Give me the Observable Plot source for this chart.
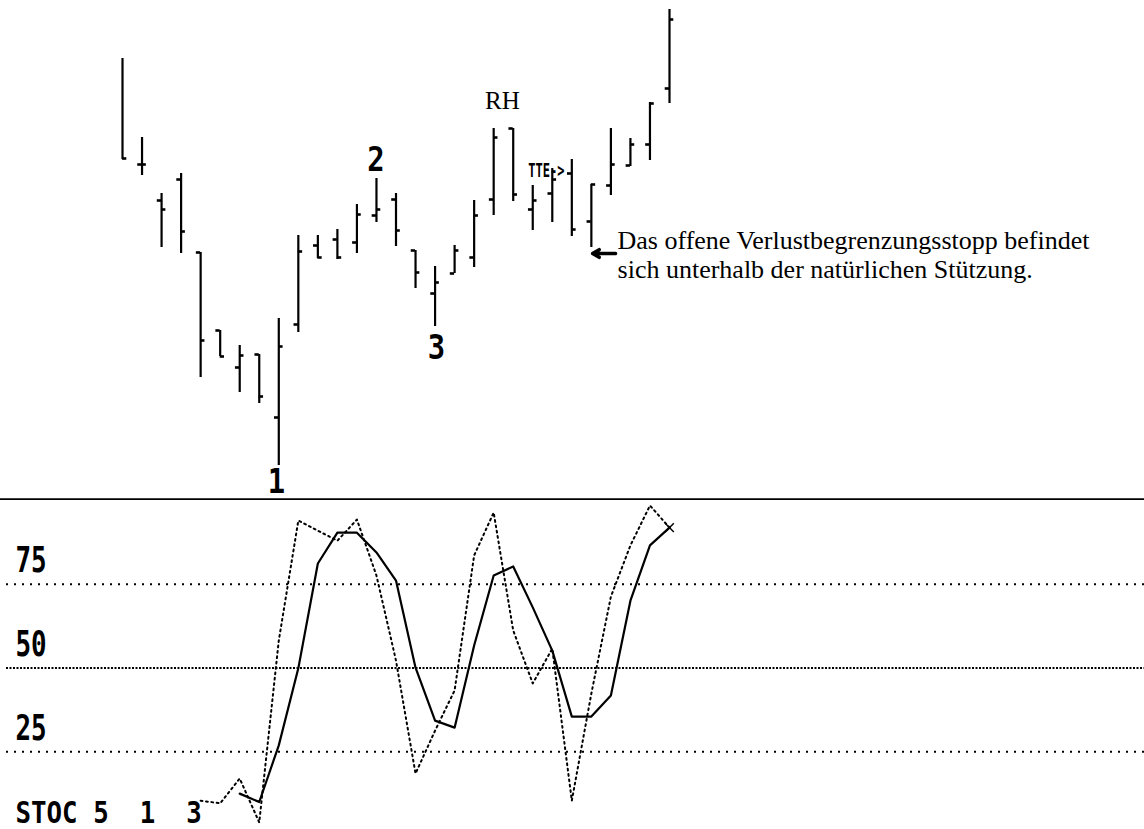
<!DOCTYPE html>
<html><head><meta charset="utf-8">
<script src="https://cdn.jsdelivr.net/npm/d3@7"></script>
<script src="https://cdn.jsdelivr.net/npm/@observablehq/plot@0.6"></script>
<style>
html,body{margin:0;padding:0;background:#fff;overflow:hidden;}
#chart{width:1144px;}
#chart svg{display:block;background:#fff;}
</style></head><body><div id="chart"></div>
<script>
// ---- Price bars (OHLC), bar index 1..29 ----
const barIndex = [1,2,3,4,5,6,7,8,9,10,11,12,13,14,15,16,17,18,19,20,21,22,23,24,25,26,27,28,29];
const highs  = [110.5,90.75,76.75,81.75,62,42.5,38.75,36.5,45.5,66.25,66.25,67.75,74,80.5,76.75,62.5,58.5,63.75,75,93,93,78.75,83,85.25,79,93,90.5,99.5,122.75];
const lows   = [85.25,81.25,63.25,61.75,30.75,36,27,24.25,8.75,42,60.5,60.25,61.75,69.5,63.5,53,43.5,56.75,58.25,71.25,74.75,67.5,69.5,66,63.25,76.25,83.5,85,99.25];
const opens  = [null,84,75,80.25,62,42.5,33.25,36.5,20.75,44,63.75,65.25,64.5,71.25,75.25,62.5,51.75,56.75,60.75,75.25,93,72.75,76.75,81.75,69.75,78.75,83.75,89,103];
const closes = [85.5,84,72.75,67.25,40,36,36.25,26,38.5,62.25,60.75,60.75,71.5,72.75,67.5,57,54.5,62.5,71.25,90.75,76.5,75,80.25,67.75,79,84,89,99.25,120.25];

// ---- Chart labels on the price panel ----
const waveText = ["1","2","3"];
const waveI    = [8.88, 13.97, 17.07];
const waveP    = [2, 82.5, 35.5];
const rhText = "RH", rhI = 20.45, rhP = 100;
const tteText = "TTE->", tteI = 22.7, tteP = 81;
const noteLines = ["Das offene Verlustbegrenzungsstopp befindet", "sich unterhalb der natürlichen Stützung."];
const noteI = 26.34;
const noteP = [63, 55.75];
const arrowFromI = 26.24, arrowToI = 25.06, arrowP = 61.75;

// ---- Stochastic (5,1,3) ----
const kIndex = [5,6,7,8,9,10,11,12,13,14,15,16,17,18,19,20,21,22,23,24,25,26,27,28,29];
const fastK  = [10.4,9.6,17,3.9,58.2,94,91,88,94.3,77.6,52.2,18.5,31.3,43.3,83.6,96.4,61.2,45.4,55.8,10.4,42.4,71.3,86.6,98.5,91.9];
const dIndex = [7,8,9,10,11,12,13,14,15,16,17,18,19,20,21,22,23,24,25,26,27,28,29];
const slowD  = [12.5,10,26.9,49.9,81.2,90.4,90.4,84.5,76.1,50.1,34.3,32.2,56.7,77.6,80.3,68.1,55.2,35.5,35.5,41.8,70.1,86.6,91.9];
const gridLevels = [75, 50, 25];
const gridLabels = ["75", "50", "25"];
const stocLabel = "STOC\u00a05\u00a0\u00a01\u00a0\u00a03";

const bars = barIndex.map((i, k) => ({i, high: highs[k], low: lows[k], open: opens[k], close: closes[k]}));
const waves = waveText.map((t, k) => ({i: waveI[k], p: waveP[k], label: t}));
const notes = noteLines.map((t, k) => ({i: noteI, p: noteP[k], label: t}));
const kData = kIndex.map((i, k) => ({i, v: fastK[k]}));
const dData = dIndex.map((i, k) => ({i, v: slowD[k]}));
const grid = gridLevels.map((v, k) => ({v, label: gridLabels[k]}));

const X = {domain: [1, 29], range: [122, 669], axis: null};
const MONO = "DejaVu Sans Mono";

const topPlot = Plot.plot({
  width: 1144, height: 500, margin: 0,
  x: X,
  y: {domain: [0, 125], range: [500, 0], axis: null},
  marks: [
    Plot.ruleY([0], {stroke: "#000", strokeWidth: 2.5, dy: -1}),
    Plot.ruleX(bars, {x: "i", y1: "low", y2: "high", stroke: "#000", strokeWidth: 2.2}),
    Plot.ruleY(bars.filter(d => d.open != null), {y: "open", x1: d => d.i - 0.22, x2: "i", stroke: "#000", strokeWidth: 2.6}),
    Plot.ruleY(bars, {y: "close", x1: "i", x2: d => d.i + 0.22, stroke: "#000", strokeWidth: 2.6}),
    Plot.text(waves, {x: "i", y: "p", text: "label", fontFamily: MONO, fontWeight: "bold", fontSize: 34, fill: "#000"}),
    Plot.text([rhText], {x: rhI, y: rhP, text: d => d, fontFamily: "Liberation Serif", fontSize: 25, fill: "#000"}),
    Plot.text([tteText], {x: tteI, y: tteP, text: d => d, fontFamily: MONO, fontWeight: "bold", fontSize: 20, fill: "#000"}),
    Plot.arrow([{a: arrowFromI, b: arrowToI, p: arrowP}], {x1: "a", x2: "b", y1: "p", y2: "p", stroke: "#000", strokeWidth: 3.5, headLength: 14}),
    Plot.text(notes, {x: "i", y: "p", text: "label", textAnchor: "start", lineAnchor: "bottom", fontFamily: "Liberation Serif", fontSize: 26, fill: "#000"})
  ]
});

const bottomPlot = Plot.plot({
  width: 1144, height: 329, marginLeft: 6, marginRight: 0, marginTop: 0, marginBottom: 0,
  x: X,
  y: {domain: [0, 100], range: [335, 0], axis: null},
  marks: [
    Plot.ruleY(grid.filter(d => d.v !== 50), {y: "v", stroke: "#000", strokeWidth: 2, strokeDasharray: "2,6"}),
    Plot.ruleY(grid.filter(d => d.v === 50), {y: "v", stroke: "#000", strokeWidth: 2, strokeDasharray: "2,1.5"}),
    Plot.text(grid, {y: "v", text: "label", frameAnchor: "left", textAnchor: "start", dx: 9, dy: -12, fontFamily: MONO, fontWeight: "bold", fontSize: 36, fill: "#000"}),
    Plot.text([stocLabel], {text: d => d, frameAnchor: "bottom-left", textAnchor: "start", lineAnchor: "bottom", dx: 9, dy: -7, fontFamily: MONO, fontWeight: "bold", fontSize: 30, fill: "#000"}),
    Plot.line(kData, {x: "i", y: "v", stroke: "#000", strokeWidth: 2, strokeDasharray: "1.8,3.6"}),
    Plot.line(dData, {x: "i", y: "v", stroke: "#000", strokeWidth: 2.2}),
    Plot.dot(dData.slice(-1), {x: "i", y: "v", symbol: "times", r: 4, stroke: "#000", strokeWidth: 1.5})
  ]
});

// condense the pixel-font texts horizontally (they stay real text)
function squeeze(svg, size, factor) {
  svg.querySelectorAll("g").forEach(g => {
    if (parseFloat(g.getAttribute("font-size")) !== size) return;
    g.querySelectorAll("text").forEach(t => {
      let tr = t.getAttribute("transform") || "";
      if (t.hasAttribute("x") || t.hasAttribute("y")) {
        const x = +t.getAttribute("x") || 0, y = +t.getAttribute("y") || 0;
        t.removeAttribute("x"); t.removeAttribute("y");
        tr = `translate(${x},${y}) ` + tr;
      }
      t.setAttribute("transform", tr + ` scale(${factor},1)`);
    });
  });
}
squeeze(topPlot, 34, 0.85);
squeeze(topPlot, 20, 0.6);
squeeze(bottomPlot, 36, 0.72);
squeeze(bottomPlot, 30, 0.86);

document.getElementById("chart").append(topPlot, bottomPlot);
</script>
</body></html>
